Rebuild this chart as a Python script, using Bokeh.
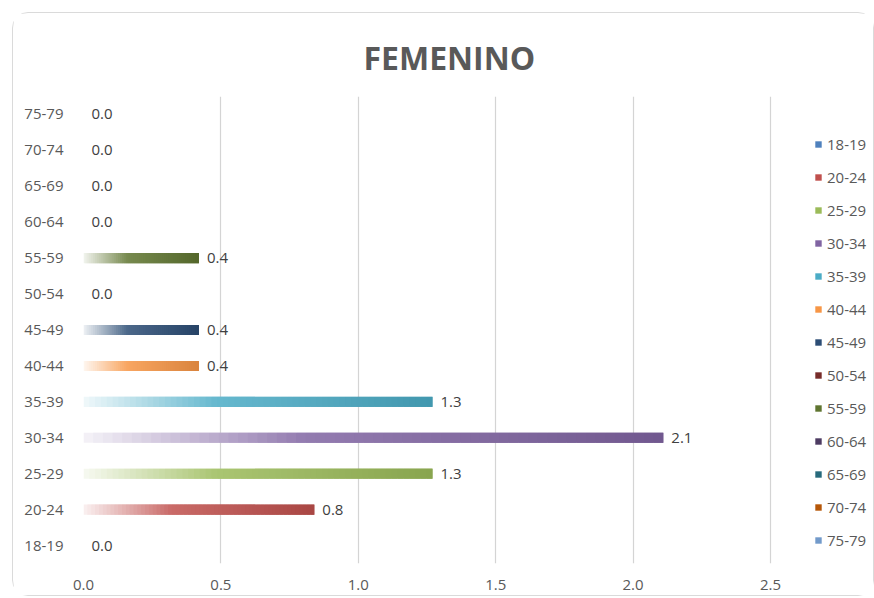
from bokeh.plotting import figure
from bokeh.models import (ColumnDataSource, FixedTicker, PrintfTickFormatter,
                          Legend, LegendItem, Range1d, FactorRange)
from bokeh.embed import file_html
from bokeh.resources import INLINE
from bokeh.core.properties import value

# ---------------- data ----------------
title_text = "FEMENINO"
categories = ["18-19", "20-24", "25-29", "30-34", "35-39", "40-44", "45-49",
              "50-54", "55-59", "60-64", "65-69", "70-74", "75-79"]
values = [0.0, 0.84, 1.27, 2.11, 1.27, 0.42, 0.42, 0.0, 0.42, 0.0, 0.0, 0.0, 0.0]
colors = ["#4F81BD", "#C0504D", "#9BBB59", "#8064A2", "#4BACC6", "#F79646",
          "#2C4D75", "#772C2A", "#5F7530", "#4D3B62", "#276A7C", "#B65708",
          "#729ACA"]
x_ticks = [0.0, 0.5, 1.0, 1.5, 2.0, 2.5]

FONT = "Open Sans"
TXT = "#595959"


def hex2rgb(h):
    h = h.lstrip("#")
    return [int(h[i:i + 2], 16) for i in (0, 2, 4)]


def rgb2hex(c):
    return "#%02x%02x%02x" % tuple(max(0, min(255, int(round(v)))) for v in c)


def mix(a, b, t):
    return [a[i] + (b[i] - a[i]) * t for i in range(3)]


def grad_color(base, t):
    b = hex2rgb(base)
    w = [255, 255, 255]
    c0 = mix(b, w, 0.92)
    c1 = mix(b, w, 0.15)
    c2 = [v * 0.88 for v in b]
    if t < 0.38:
        return rgb2hex(mix(c0, c1, t / 0.38))
    return rgb2hex(mix(c1, c2, (t - 0.38) / 0.62))


# gradient bars built from the values (overlapping slices hide seams)
N = 60
seg = dict(y=[], left=[], right=[], color=[])
for cat, v, col in zip(categories, values, colors):
    if v <= 0:
        continue
    for i in range(N):
        seg["y"].append(cat)
        seg["left"].append(v * i / N)
        seg["right"].append(min(v, v * (i + 2) / N))
        seg["color"].append(grad_color(col, (i + 0.5) / N))

# frame spans to the right edge so the legend (inside the frame) is not clipped
p = figure(width=862, height=584, output_backend="svg", toolbar_location=None,
           y_range=FactorRange(factors=categories, range_padding=0),
           x_range=Range1d(0, 2.864))
p.margin = (12, 0, 0, 12)
p.styles = {"border": "1.5px solid #DADADA", "border-radius": "16px",
            "box-sizing": "border-box"}
p.min_border_left = 70
p.min_border_right = 5
p.min_border_top = 83
p.min_border_bottom = 34
p.outline_line_color = None
p.background_fill_color = "white"
p.border_fill_color = "white"

p.title.text = title_text
p.title.align = "left"
p.title.offset = 280
p.title.vertical_align = "bottom"
p.title.text_font = FONT
p.title.text_font_size = "32px"
p.title.text_font_style = "bold"
p.title.text_color = TXT
p.title.standoff = 36

src = ColumnDataSource(seg)
p.hbar(y="y", left="left", right="right", height=0.28, fill_color="color",
       line_color=None, source=src)

# legend renderers (zero-width bars, used only for the legend swatches)
items = []
for cat, col in zip(categories, colors):
    r = p.hbar(y=[cat], left=[0], right=[0], height=0.28, fill_color=col,
               line_color=None)
    items.append(LegendItem(label=cat, renderers=[r]))

# data labels
lab = ColumnDataSource(dict(x=values, y=categories,
                            t=["%.1f" % v for v in values]))
p.text(x="x", y="y", text="t", x_offset=8, text_baseline="middle",
       text_font=value(FONT), text_font_size="15px", text_color="#404040",
       source=lab)

# axes / grid
p.xaxis.ticker = FixedTicker(ticks=x_ticks)
p.xaxis.formatter = PrintfTickFormatter(format="%.1f")
for ax in (p.xaxis, p.yaxis):
    ax.axis_line_color = None
    ax.major_tick_line_color = None
    ax.minor_tick_line_color = None
    ax.major_label_text_font = FONT
    ax.major_label_text_font_size = "15px"
    ax.major_label_text_color = TXT
p.xaxis.major_label_standoff = 10
p.yaxis.major_label_standoff = 14
p.ygrid.grid_line_color = None
p.xgrid.grid_line_color = "#D4D4D4"
p.xgrid.grid_line_width = 1.2

legend = Legend(items=items, location=(731, 13), padding=0, spacing=13,
                label_height=20, glyph_width=8, glyph_height=8,
                label_standoff=5, border_line_color=None,
                background_fill_alpha=0, label_text_font=FONT,
                label_text_font_size="15px", label_text_color=TXT,
                margin=0)
p.add_layout(legend, "center")

open("out.html", "w").write(file_html(p, INLINE))
